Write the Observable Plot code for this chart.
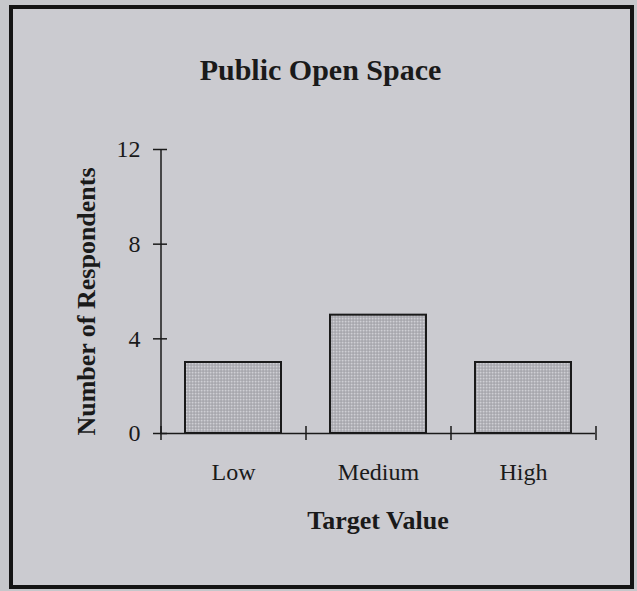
<!DOCTYPE html>
<html>
<head>
<meta charset="utf-8">
<script src="https://cdn.jsdelivr.net/npm/d3@7"></script>
<script src="https://cdn.jsdelivr.net/npm/@observablehq/plot@0.6"></script>
<style>
  html, body { margin: 0; padding: 0; background: #c6c7cb; width: 637px; height: 591px; overflow: hidden; }
  #frame { position: absolute; left: 9px; top: 5px; width: 617px; height: 576px; border: 4px solid #141414; background: #cbcbd0; }
  #chart { position: absolute; left: 0; top: 0; }
  #chart svg { background: transparent; }
</style>
</head>
<body>
<svg width="0" height="0" style="position:absolute">
  <defs>
    <pattern id="stipple" width="3" height="3" patternUnits="userSpaceOnUse">
      <rect width="3" height="3" fill="#b3b3b9"></rect>
      <rect x="0" y="0" width="1.3" height="1.3" fill="#cfcfd4"></rect>
      <rect x="1.5" y="1.5" width="1.2" height="1.2" fill="#9a9aa0"></rect>
    </pattern>
  </defs>
</svg>
<div id="frame"></div>
<div id="chart"></div>
<script>
const categories = ["Low", "Medium", "High"];
const respondents = [3, 5, 3];
const yTicks = [0, 4, 8, 12];
const titleText = "Public Open Space";
const xTitle = "Target Value";
const yTitle = "Number of Respondents";

const data = categories.map((c, i) => ({category: c, value: respondents[i]}));

const W = 637, H = 591;
const mL = 160, mR = 42, mT = 149, mB = 158;
const frameW = W - mL - mR;
const step = frameW / categories.length;
const tick = 7;
const ink = "#1a1a1a";

const chart = Plot.plot({
  width: W,
  height: H,
  marginLeft: mL,
  marginRight: mR,
  marginTop: mT,
  marginBottom: mB,
  style: {fontFamily: "'Liberation Serif', 'Times New Roman', serif", color: ink, background: "transparent"},
  x: {domain: categories, paddingInner: 0.34, paddingOuter: 0.17, axis: null},
  y: {domain: [0, 12], axis: null},
  marks: [
    Plot.barY(data, {x: "category", y: "value", fill: "url(#stipple)", stroke: ink, strokeWidth: 2}),
    // x axis line
    Plot.ruleY([0], {stroke: ink, strokeWidth: 1.5}),
    // y axis line
    Plot.ruleX([categories[0]], {y1: 0, y2: 12, dx: -step / 2, stroke: ink, strokeWidth: 1.5}),
    // y tick marks crossing the axis
    Plot.ruleY(yTicks, {y: d => d, insetLeft: -tick, insetRight: frameW - tick, stroke: ink, strokeWidth: 1.5}),
    // x tick marks at category boundaries
    Plot.ruleX(categories, {x: d => d, y1: 0, y2: 0, insetTop: -tick, insetBottom: -tick, dx: -step / 2, stroke: ink, strokeWidth: 1.5}),
    Plot.ruleX([categories[categories.length - 1]], {x: d => d, y1: 0, y2: 0, insetTop: -tick, insetBottom: -tick, dx: step / 2, stroke: ink, strokeWidth: 1.5}),
    // tick labels
    Plot.axisY(yTicks, {tickSize: 0, tickPadding: 20, fontSize: 24, fill: ink, label: null, tickFormat: d => String(d)}),
    Plot.axisX(categories, {tickSize: 0, tickPadding: 29, fontSize: 24, fill: ink, label: null, letterSpacing: "0.5px"}),
    // titles
    Plot.text([titleText], {frameAnchor: "top", dx: 320 - (mL + frameW / 2), dy: -70, lineAnchor: "bottom", fontSize: 30, fontWeight: "bold", fill: ink, letterSpacing: "-0.6px"}),
    Plot.text([xTitle], {frameAnchor: "bottom", dy: 95, lineAnchor: "bottom", fontSize: 26, fontWeight: "bold", fill: ink, letterSpacing: "1.5px"}),
    Plot.text([yTitle], {frameAnchor: "left", rotate: -90, textAnchor: "middle", dx: 86 - mL, dy: 10, lineAnchor: "middle", fontSize: 26, fontWeight: "bold", fill: ink})
  ]
});
document.getElementById("chart").appendChild(chart);
</script>
</body>
</html>
